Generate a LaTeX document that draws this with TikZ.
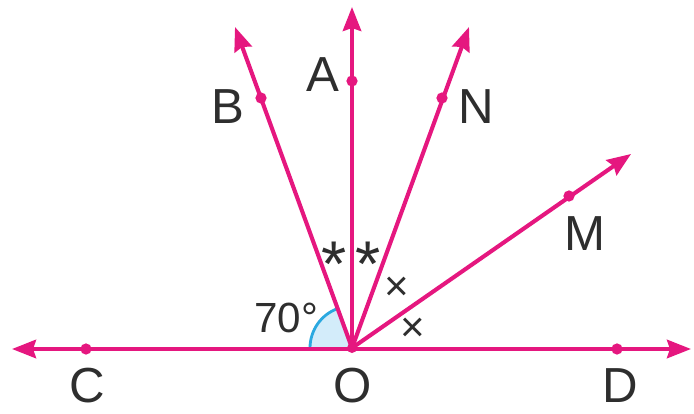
\documentclass[tikz,border=0pt]{standalone}
\usepackage{fontspec}
\setmainfont{Liberation Sans}
\usetikzlibrary{arrows.meta}
\definecolor{mag}{HTML}{E5177F}
\definecolor{txt}{HTML}{2E2E2E}
\definecolor{arcb}{HTML}{2AA8E0}
\definecolor{arcf}{HTML}{D3ECFA}
\tikzset{
  tip/.tip={Stealth[length=17pt,width=13pt,inset=2pt]},
  ray/.style={draw=mag, line width=2.9pt, -tip},
  pt/.style={circle, fill=mag, inner sep=0pt, minimum size=8pt},
  lbl/.style={text=txt, font=\fontsize{35}{38}\selectfont, inner sep=0pt},
  mrk/.style={text=txt, font=\fontsize{26}{28}\selectfont, inner sep=0pt},
  star/.style={text=txt, font=\fontsize{46}{48}\selectfont, inner sep=0pt, anchor=north},
}
\begin{document}
\begin{tikzpicture}[x=0.025cm, y=-0.025cm]
\useasboundingbox (0,0) rectangle (694,413);
\coordinate (O) at (352,348);
\coordinate (Ct) at (12,349);
\coordinate (Dt) at (691,349);
\coordinate (At) at (352,7);
\coordinate (Bt) at (235,27);
\coordinate (Nt) at (469,27);
\coordinate (Mt) at (631,154);
% angle arc
\fill[arcf] (O) -- ++(180:42) arc[start angle=180, end angle=250, radius=42] -- cycle;
\draw[arcb, line width=2pt] (O) ++(180:42) arc[start angle=180, end angle=250, radius=42];
% lines
\draw[ray, tip-tip] (Ct) -- (Dt);
\draw[ray] (O) -- (At);
\draw[ray] (O) -- (Bt);
\draw[ray] (O) -- (Nt);
\draw[ray] (O) -- (Mt);
% points
\node[pt] (C) at (86,349) {};
\node[pt] (D) at (617,349) {};
\node[pt] (A) at (352,81) {};
\node[pt] (B) at (261,98) {};
\node[pt] (N) at (442,98) {};
\node[pt] (M) at (569,196) {};
\fill[mag] (O) circle (5);
% labels
\node[lbl] (lC) at (87,386) {C};
\node[lbl] (lD) at (620,386) {D};
\node[lbl] (lO) at (353,386) {O};
\node[lbl] (lA) at (323,75) {A};
\node[lbl] (lB) at (228,107) {B};
\node[lbl] (lN) at (476,107) {N};
\node[lbl] (lM) at (585,234) {M};
\node[mrk, font=\fontsize{30}{32}\selectfont] (ang) at (286,318) {70\textdegree};
\node[star] (s1) at (334,242) {*};
\node[star] (s2) at (368,242) {*};
\node[mrk, font=\fontsize{30}{32}\selectfont] (x1) at (397,289) {\texttimes};
\node[mrk, font=\fontsize{30}{32}\selectfont] (x2) at (413,330) {\texttimes};
\end{tikzpicture}
\end{document}
